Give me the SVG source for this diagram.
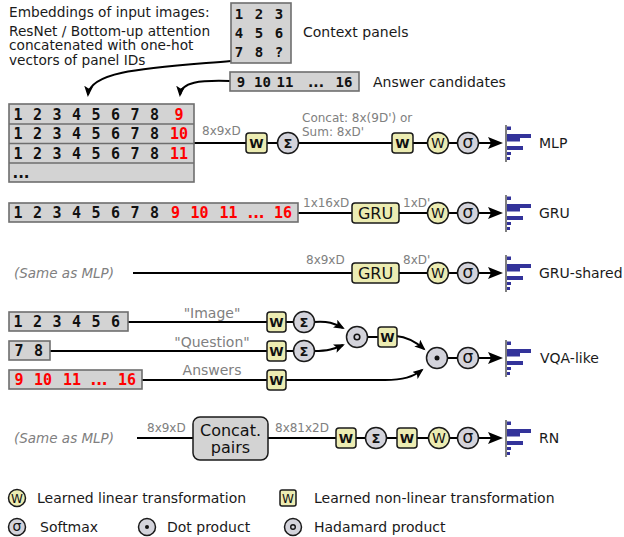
<svg xmlns="http://www.w3.org/2000/svg" xmlns:xlink="http://www.w3.org/1999/xlink" width="624" height="537" viewBox="0 0 624 537">
<style>
.box{fill:#d3d3d3;stroke:#6e6e6e;stroke-width:1.6}
.num{font-family:"DejaVu Sans Mono",monospace;font-weight:bold;font-size:15px;fill:#111;text-anchor:middle}
.nsm{font-size:14px}
.dots{font-family:"DejaVu Sans",sans-serif}
.red{fill:#ff0000}
.lbl{font-family:"DejaVu Sans",sans-serif;font-size:14px;fill:#1a1a1a}
.dim{font-family:"DejaVu Sans",sans-serif;font-size:12px;fill:#808080}
.dim14{font-family:"DejaVu Sans",sans-serif;font-size:14px;fill:#808080}
.it{font-family:"DejaVu Sans",sans-serif;font-size:13.5px;font-style:italic;fill:#808080}
.yel{fill:#ececb2;stroke:#1a1a1a;stroke-width:1.5}
.gry{fill:#d3d3db;stroke:#1a1a1a;stroke-width:1.5}
.conn{fill:none;stroke:#000;stroke-width:2}
.wb{font-family:"DejaVu Sans",sans-serif;font-weight:bold;font-size:13px;fill:#111;text-anchor:middle}
.wc{font-family:"DejaVu Sans",sans-serif;font-size:14px;fill:#111;text-anchor:middle}
.sg{font-family:"DejaVu Sans",sans-serif;font-weight:bold;font-size:13px;fill:#111;text-anchor:middle}
.sm{font-family:"DejaVu Sans",sans-serif;font-size:17px;fill:#111;text-anchor:middle}
.big{font-family:"DejaVu Sans",sans-serif;font-size:16px;fill:#111;text-anchor:middle}
.bar{fill:#33339a}
</style>
<defs>
<marker id="ab" markerUnits="userSpaceOnUse" markerWidth="16" markerHeight="13" refX="12" refY="6" orient="auto">
<path d="M0,0 L15,6 L0,12 L3,6 Z" fill="#000"/>
</marker>
<marker id="as" markerUnits="userSpaceOnUse" markerWidth="12" markerHeight="10" refX="9" refY="4.5" orient="auto">
<path d="M0,0 L11,4.5 L0,9 L2.5,4.5 Z" fill="#000"/>
</marker>
<g id="hist">
<line x1="0" y1="0" x2="0" y2="37" stroke="#555" stroke-width="1.5"/>
<rect class="bar" x="1" y="1.5" width="4" height="3.5"/>
<rect class="bar" x="1" y="9" width="24" height="4"/>
<rect class="bar" x="1" y="13" width="13" height="3.5"/>
<rect class="bar" x="1" y="21" width="16" height="4"/>
<rect class="bar" x="1" y="27" width="4" height="3"/>
<rect class="bar" x="1" y="32" width="3" height="3"/>
</g>
</defs>
<rect width="624" height="537" fill="#fff"/>

<g id="intro-text" class="lbl" style="font-size:13.7px">
<text x="9" y="17">Embeddings of input images:</text>
<text x="9" y="35.5">ResNet / Bottom-up attention</text>
<text x="9" y="50">concatenated with one-hot</text>
<text x="9" y="64.5">vectors of panel IDs</text>
</g>

<g id="connectors">
<path class="conn" d="M231,61 C150,68 90,70 88,95" marker-end="url(#as)"/>
<path class="conn" d="M230,81 C200,80 181,82 180,95" marker-end="url(#as)"/>
<path class="conn" d="M194,143 H500" marker-end="url(#ab)"/>
<path class="conn" d="M298,213 H500" marker-end="url(#ab)"/>
<path class="conn" d="M133,273 H500" marker-end="url(#ab)"/>
<path class="conn" d="M128,322 H304"/>
<path class="conn" d="M50,351 H304"/>
<path class="conn" d="M142,380 H385"/>
<path class="conn" d="M314,322 C328,321 334,323 343,328" marker-end="url(#as)"/>
<path class="conn" d="M314,351 C328,351 334,349 343,345" marker-end="url(#as)"/>
<path class="conn" d="M357,337 H390"/>
<path class="conn" d="M396,336 C408,337 416,342 424,349" marker-end="url(#as)"/>
<path class="conn" d="M385,380 C403,380 413,377 422,370" marker-end="url(#as)"/>
<path class="conn" d="M437,358 H500" marker-end="url(#ab)"/>
<path class="conn" d="M137,438 H500" marker-end="url(#ab)"/>
</g>

<g id="context-panels">
<rect class="box" x="231" y="3" width="60" height="60"/>
<text class="num nsm" x="239 259 279" y="18.5">123</text>
<text class="num nsm" x="239 259 279" y="37.5">456</text>
<text class="num nsm" x="239 259 279" y="56.5">78?</text>
<text class="lbl" x="303" y="37">Context panels</text>
</g>

<g id="answer-candidates">
<rect class="box" x="230" y="72" width="129" height="19"/>
<text class="num nsm" y="86.5"><tspan x="241">9</tspan><tspan x="262.5">10</tspan><tspan x="285">11</tspan><tspan class="dots" x="316">...</tspan><tspan x="344">16</tspan></text>
<text class="lbl" x="373" y="87">Answer candidates</text>
</g>

<g id="mlp-input">
<rect class="box" x="9" y="104" width="185" height="78"/>
<line x1="9" y1="124" x2="194" y2="124" stroke="#6e6e6e" stroke-width="1.6"/>
<line x1="9" y1="143.5" x2="194" y2="143.5" stroke="#6e6e6e" stroke-width="1.6"/>
<line x1="9" y1="163" x2="194" y2="163" stroke="#6e6e6e" stroke-width="1.6"/>
<text class="num" x="18 37.5 57 76.5 96 115.5 135 154.5" y="119.5">12345678</text>
<text class="num" x="18 37.5 57 76.5 96 115.5 135 154.5" y="139">12345678</text>
<text class="num" x="18 37.5 57 76.5 96 115.5 135 154.5" y="158.5">12345678</text>
<text class="num red" x="179" y="119.5">9</text>
<text class="num red" x="179" y="139">10</text>
<text class="num red" x="179" y="158.5">11</text>
<text class="num dots" x="21" y="178">...</text>
</g>

<g id="mlp-labels">
<text class="dim" x="202" y="135">8x9xD</text>
<text class="dim" x="302" y="122">Concat: 8x(9D') or</text>
<text class="dim" x="302" y="136">Sum: 8xD'</text>
</g>
<g id="mlp-w1"><rect class="yel" x="246" y="133" width="21" height="20" rx="3"/><text class="wb" x="256.5" y="147.5">W</text></g>
<g id="mlp-sum"><circle class="gry" cx="288" cy="143" r="10.5"/><text class="sg" x="288" y="147.5">Σ</text></g>
<g id="mlp-w2"><rect class="yel" x="392" y="133" width="21" height="20" rx="3"/><text class="wb" x="402.5" y="147.5">W</text></g>
<g id="mlp-wl"><circle class="yel" cx="438" cy="143" r="10.5"/><text class="wc" x="438" y="148">W</text></g>
<g id="mlp-soft"><circle class="gry" cx="468" cy="143" r="10.5"/><text class="sm" x="468" y="148">σ</text></g>
<g id="mlp-out"><use xlink:href="#hist" x="506" y="125"/><text class="lbl" x="539" y="148">MLP</text></g>

<g id="gru-input">
<rect class="box" x="9" y="203" width="289" height="19"/>
<text class="num" x="18 37.5 57 76.5 96 115.5 135 154.5" y="218">12345678</text>
<text class="num red" y="218"><tspan x="175.5">9</tspan><tspan x="199.5">10</tspan><tspan x="228.5">11</tspan><tspan class="dots" x="256">...</tspan><tspan x="283">16</tspan></text>
</g>
<g id="gru-labels"><text class="dim" x="303" y="207">1x16xD</text><text class="dim" x="403" y="207">1xD'</text></g>
<g id="gru-gru"><rect class="yel" x="352" y="203" width="47" height="20" rx="3"/><text class="big" x="375.5" y="219">GRU</text></g>
<g id="gru-wl"><circle class="yel" cx="438" cy="213" r="10.5"/><text class="wc" x="438" y="218">W</text></g>
<g id="gru-soft"><circle class="gry" cx="468" cy="213" r="10.5"/><text class="sm" x="468" y="218">σ</text></g>
<g id="gru-out"><use xlink:href="#hist" x="506" y="195"/><text class="lbl" x="539" y="218">GRU</text></g>

<g id="grus-input"><text class="it" x="14" y="278">(Same as MLP)</text></g>
<g id="grus-labels"><text class="dim" x="306" y="264">8x9xD</text><text class="dim" x="403" y="264">8xD'</text></g>
<g id="grus-gru"><rect class="yel" x="352" y="263" width="47" height="20" rx="3"/><text class="big" x="375.5" y="279">GRU</text></g>
<g id="grus-wl"><circle class="yel" cx="438" cy="273" r="10.5"/><text class="wc" x="438" y="278">W</text></g>
<g id="grus-soft"><circle class="gry" cx="468" cy="273" r="10.5"/><text class="sm" x="468" y="278">σ</text></g>
<g id="grus-out"><use xlink:href="#hist" x="506" y="255"/><text class="lbl" x="539" y="278">GRU-shared</text></g>

<g id="vqa-image"><rect class="box" x="9" y="312" width="119" height="19"/><text class="num" x="18 37.5 57 76.5 96 115.5" y="327">123456</text></g>
<g id="vqa-question"><rect class="box" x="9" y="341" width="41" height="19"/><text class="num" x="19 38.5" y="356">78</text></g>
<g id="vqa-answers"><rect class="box" x="9" y="370" width="133" height="19"/><text class="num red" y="385"><tspan x="19">9</tspan><tspan x="43">10</tspan><tspan x="72">11</tspan><tspan class="dots" x="99">...</tspan><tspan x="127">16</tspan></text></g>
<g id="vqa-labels" class="dim14" text-anchor="middle">
<text x="212" y="318">"Image"</text>
<text x="212" y="347">"Question"</text>
<text x="212" y="375">Answers</text>
</g>
<g id="vqa-w1"><rect class="yel" x="267" y="312" width="19" height="20" rx="3"/><text class="wb" x="276.5" y="326.5">W</text></g>
<g id="vqa-s1"><circle class="gry" cx="304" cy="322" r="10.5"/><text class="sg" x="304" y="326.5">Σ</text></g>
<g id="vqa-w2"><rect class="yel" x="267" y="341" width="19" height="20" rx="3"/><text class="wb" x="276.5" y="355.5">W</text></g>
<g id="vqa-s2"><circle class="gry" cx="304" cy="351" r="10.5"/><text class="sg" x="304" y="355.5">Σ</text></g>
<g id="vqa-w3"><rect class="yel" x="267" y="370" width="19" height="20" rx="3"/><text class="wb" x="276.5" y="384.5">W</text></g>
<g id="vqa-had"><circle class="gry" cx="357" cy="337" r="10.5"/><circle cx="357" cy="337" r="2.8" fill="none" stroke="#111" stroke-width="1.6"/></g>
<g id="vqa-w4"><rect class="yel" x="378" y="327" width="19" height="20" rx="3"/><text class="wb" x="387.5" y="341.5">W</text></g>
<g id="vqa-dot"><circle class="gry" cx="437" cy="358" r="10.5"/><circle cx="437" cy="358" r="2.5" fill="#111"/></g>
<g id="vqa-soft"><circle class="gry" cx="468" cy="358" r="10.5"/><text class="sm" x="468" y="363">σ</text></g>
<g id="vqa-out"><use xlink:href="#hist" x="506" y="340"/><text class="lbl" x="540" y="363">VQA-like</text></g>

<g id="rn-input"><text class="it" x="14" y="443">(Same as MLP)</text></g>
<g id="rn-labels"><text class="dim" x="147" y="432">8x9xD</text><text class="dim" x="275" y="432">8x81x2D</text></g>
<g id="rn-concat"><rect x="193" y="417" width="75" height="43" rx="7" fill="#d3d3d3" stroke="#1a1a1a" stroke-width="1.5"/><text class="big" x="230.5" y="435.5">Concat.</text><text class="big" x="230.5" y="453">pairs</text></g>
<g id="rn-w1"><rect class="yel" x="336" y="428" width="20" height="20" rx="3"/><text class="wb" x="346" y="442.5">W</text></g>
<g id="rn-sum"><circle class="gry" cx="376" cy="438" r="10.5"/><text class="sg" x="376" y="442.5">Σ</text></g>
<g id="rn-w2"><rect class="yel" x="397" y="428" width="20" height="20" rx="3"/><text class="wb" x="407" y="442.5">W</text></g>
<g id="rn-wl"><circle class="yel" cx="439" cy="438" r="10.5"/><text class="wc" x="439" y="443">W</text></g>
<g id="rn-soft"><circle class="gry" cx="468" cy="438" r="10.5"/><text class="sm" x="468" y="443">σ</text></g>
<g id="rn-out"><use xlink:href="#hist" x="506" y="420"/><text class="lbl" x="539" y="443">RN</text></g>

<g id="legend">
<circle class="yel" cx="17" cy="498" r="8.5"/><text class="wc" style="font-size:12px" x="17" y="502.5">W</text>
<text class="lbl" x="37" y="503">Learned linear transformation</text>
<rect class="yel" x="280" y="490" width="16" height="16" rx="2"/><text class="wc" style="font-size:12px" x="288" y="502.5">W</text>
<text class="lbl" x="314" y="503">Learned non-linear transformation</text>
<circle class="gry" cx="17" cy="527" r="8.5"/><text class="sm" style="font-size:14px" x="17" y="531">σ</text>
<text class="lbl" x="40" y="532">Softmax</text>
<circle class="gry" cx="147" cy="527" r="8.5"/><circle cx="147" cy="527" r="2" fill="#111"/>
<text class="lbl" x="167" y="532">Dot product</text>
<circle class="gry" cx="293" cy="527" r="8.5"/><circle cx="293" cy="527" r="2.3" fill="none" stroke="#111" stroke-width="1.4"/>
<text class="lbl" x="314" y="532">Hadamard product</text>
</g>
</svg>
